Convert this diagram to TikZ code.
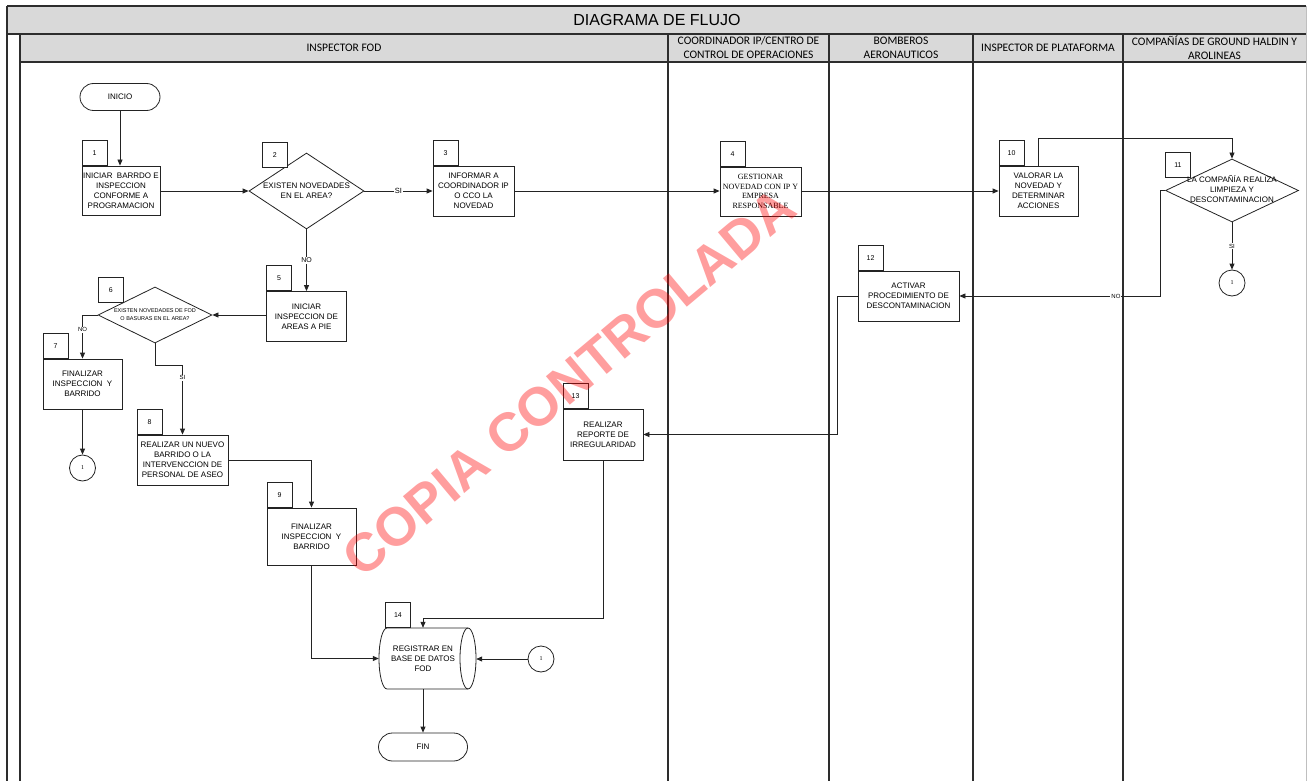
\documentclass[tikz,border=0pt]{standalone}
\usepackage{fontspec}
\setmainfont{Liberation Sans}
\newfontfamily\calibrifont{Carlito}
\newfontfamily\timesfont{Liberation Serif}
\usetikzlibrary{shapes.geometric,shapes.misc,arrows.meta,calc}
\definecolor{band}{RGB}{217,217,217}
\definecolor{framec}{RGB}{45,45,45}
\definecolor{ln}{RGB}{35,35,35}
\begin{document}
\begin{tikzpicture}[x=1pt,y=-1pt,
  box/.style={draw=ln, line width=0.8pt, fill=white, align=center, inner sep=1pt, font=\fontsize{8}{10}\selectfont},
  tab/.style={draw=ln, line width=0.8pt, fill=white, minimum width=25pt, minimum height=25pt, inner sep=0pt, font=\fontsize{7}{8}\selectfont, anchor=south west},
  dia/.style={draw=ln, line width=0.8pt, fill=white, diamond, inner sep=0pt},
  txt/.style={align=center, inner sep=0pt, font=\fontsize{8}{10}\selectfont},
  term/.style={draw=ln, line width=0.8pt, fill=white, rounded rectangle, inner sep=0pt, font=\fontsize{8}{10}\selectfont},
  conn/.style={draw=ln, line width=0.8pt, fill=white, circle, minimum size=26pt, inner sep=0pt, font=\timesfont\fontsize{6}{7}\selectfont},
  flow/.style={draw=ln, line width=0.8pt, -{Triangle[length=6pt,width=5pt]}},
  lbl/.style={fill=white, inner sep=1pt, font=\fontsize{6}{7}\selectfont},
  lane/.style={font=\calibrifont\fontsize{11.5}{14}\selectfont, align=center, inner sep=0pt},
  framel/.style={draw=framec, line width=1.3pt},
]
\useasboundingbox (0,0) rectangle (1307,781);
% frame
\fill[white] (0,0) rectangle (1307,781);
\fill[band] (7,6) rectangle (1306,34);
\fill[band] (20,34) rectangle (1306,62);
\draw[framel] (7,6) -- (1306,6);
\draw[framel] (7,6) -- (7,781);
\draw[framel] (7,34) -- (1306,34);
\draw[framel] (20,34) -- (20,781);
\draw[framel] (20,62) -- (1306,62);
\foreach \lx in {668,829,973,1123} {\draw[framel] (\lx,34) -- (\lx,781);}
\draw[draw=black!25, line width=0.8pt] (1306,6) -- (1306,781);
% headers
\node[font=\fontsize{16}{19}\selectfont] (title) at (657,20) {DIAGRAMA DE FLUJO};
\node[lane] (hA) at (344,48) {INSPECTOR FOD};
\node[lane] (hB) at (748.5,48) {COORDINADOR IP/CENTRO DE\\CONTROL DE OPERACIONES};
\node[lane] (hC) at (901,48) {BOMBEROS\\AERONAUTICOS};
\node[lane] (hD) at (1048,48) {INSPECTOR DE PLATAFORMA};
\node[lane] (hE) at (1214.5,48) {COMPAÑÍAS DE GROUND HALDIN Y\\AROLINEAS};
% nodes
\node[term, minimum width=80pt, minimum height=27pt] (ini) at (120,97) {INICIO};
\node[box, minimum width=78pt, minimum height=49pt] (b1) at (121,190.5) {INICIAR\ \ BARRDO E\\INSPECCION\\CONFORME A\\PROGRAMACION};
\node[tab] (t1) at (b1.north west) {1};
\node[dia, minimum width=115pt, minimum height=76pt] (d2) at (306.5,191) {};
\node[txt] (d2t) at (d2) {EXISTEN NOVEDADES\\EN EL AREA?};
\node[tab, anchor=north west] (t2) at (262,142) {2};
\node[box, minimum width=81pt, minimum height=50pt] (b3) at (473.5,191) {INFORMAR A\\COORDINADOR IP\\O CCO LA\\NOVEDAD};
\node[tab] (t3) at (b3.north west) {3};
\node[box, minimum width=81pt, minimum height=49pt, font=\timesfont\fontsize{8}{9.5}\selectfont] (b4) at (760.5,191.5) {GESTIONAR\\NOVEDAD CON IP Y\\EMPRESA\\RESPONSABLE};
\node[tab] (t4) at (b4.north west) {4};
\node[box, minimum width=79pt, minimum height=50pt] (b10) at (1038.5,191) {VALORAR LA\\NOVEDAD Y\\DETERMINAR\\ACCIONES};
\node[tab] (t10) at (b10.north west) {10};
\node[dia, minimum width=133pt, minimum height=63pt] (d11) at (1232,190.5) {};
\node[tab, anchor=north west] (t11) at (1165,152) {11};
\node[txt] (d11t) at (1232,189) {LA COMPAÑÍA REALIZA\\LIMPIEZA Y\\DESCONTAMINACION};
\node[conn] (c11) at (1232,283) {1};
\node[box, minimum width=101pt, minimum height=50pt] (b12) at (908.5,296) {ACTIVAR\\PROCEDIMIENTO DE\\DESCONTAMINACION};
\node[tab] (t12) at (b12.north west) {12};
\node[box, minimum width=80pt, minimum height=51pt] (b13) at (603,434.5) {REALIZAR\\REPORTE DE\\IRREGULARIDAD};
\node[tab] (t13) at (b13.north west) {13};
\node[box, minimum width=80pt, minimum height=50pt] (b5) at (306.5,316.5) {INICIAR\\INSPECCION DE\\AREAS A PIE};
\node[tab] (t5) at (b5.north west) {5};
\node[dia, minimum width=114pt, minimum height=56pt] (d6) at (155,315) {};
\node[tab, anchor=north west] (t6) at (98,277) {6};
\node[txt, font=\fontsize{5.5}{8}\selectfont] (d6t) at (d6) {EXISTEN NOVEDADES DE FOD\\O BASURAS EN EL AREA?};
\node[box, minimum width=79pt, minimum height=50pt] (b7) at (82.5,384) {FINALIZAR\\INSPECCION\ \ Y\\BARRIDO};
\node[tab] (t7) at (b7.north west) {7};
\node[conn] (c7) at (82.5,468) {1};
\node[box, minimum width=91pt, minimum height=50pt] (b8) at (182.5,460) {REALIZAR UN NUEVO\\BARRIDO O LA\\INTERVENCCION DE\\PERSONAL DE ASEO};
\node[tab] (t8) at (b8.north west) {8};
\node[box, minimum width=89pt, minimum height=57pt] (b9) at (311.5,536.5) {FINALIZAR\\INSPECCION\ \ Y\\BARRIDO};
\node[tab] (t9) at (b9.north west) {9};
% storage shape 14
\node[minimum width=97pt, minimum height=61pt, inner sep=0pt] (b14) at (427.5,658.5) {};
\draw[draw=ln, line width=0.8pt, fill=white] (387,628) -- (468,628) arc[start angle=90, end angle=-90, x radius=8pt, y radius=30.5pt] -- (387,689) arc[start angle=-90, end angle=-270, x radius=8pt, y radius=30.5pt] -- cycle;
\draw[draw=ln, line width=0.8pt] (468,628) arc[start angle=90, end angle=270, x radius=8pt, y radius=30.5pt];
\node[txt] (b14t) at (423,659) {REGISTRAR EN\\BASE DE DATOS\\FOD};
\node[tab] (t14) at (385,628) {14};
\node[conn] (c14) at (541,659) {1};
\node[term, minimum width=89pt, minimum height=28pt] (fin) at (423,747) {FIN};
\coordinate (b14n) at ($(b14.north)+(-4.5,0)$);
\coordinate (b14s) at ($(b14.south)+(-4.5,0)$);
\coordinate (k1) at (0,138);
\coordinate (k2) at (0,618);
% connectors
\draw[flow] (ini.south) -- (ini.south |- b1.north);
\draw[flow] (b1.east |- d2.west) -- (d2.west);
\draw[flow] (d2.east) -- node[lbl, font=\fontsize{7.5}{8}\selectfont]{SI} (b3.west |- d2.east);
\draw[flow] (b3.east) -- (b3.east -| b4.west);
\draw[flow] (b4.east |- b10.west) -- (b10.west);
\draw[flow] (b10.north) -- (b10.north |- k1) -| (d11.north);
\draw[flow] (d11.south) -- node[lbl]{SI} (c11.north);
\draw[flow] (d11.west) -- ++(-5,0) |- node[lbl, pos=0.61]{NO} (b12.east);
\draw[flow] (b12.west) -- ++(-20,0) |- (b13.east);
\draw[flow] (b13.south) -- (b13.south |- k2) -| (b14n);
\draw[flow] (b9.south) |- (b14.west);
\draw[flow] (c14.west) -- (b14.east |- c14.west);
\draw[flow] (b14s) -- (fin.north);
\draw[flow] (d2.south) -- node[lbl, font=\fontsize{7}{8}\selectfont]{NO} (b5.north);
\draw[flow] (b5.west |- d6.east) -- (d6.east);
\draw[flow] (d6.west) -| node[lbl, pos=0.67]{NO} (b7.north);
\draw[flow] (b7.south) -- (c7.north);
\draw[flow] (d6.south) -- ++(0,22) -| node[lbl, pos=0.59]{SI} (b8.north);
\draw[flow] (b8.east) -| (b9.north);
% watermark
\node[rotate=40, text=red, text opacity=0.38, font=\bfseries\fontsize{54}{60}\selectfont, inner sep=0pt] (wm) at (569,382) {COPIA CONTROLADA};
\end{tikzpicture}
\end{document}
